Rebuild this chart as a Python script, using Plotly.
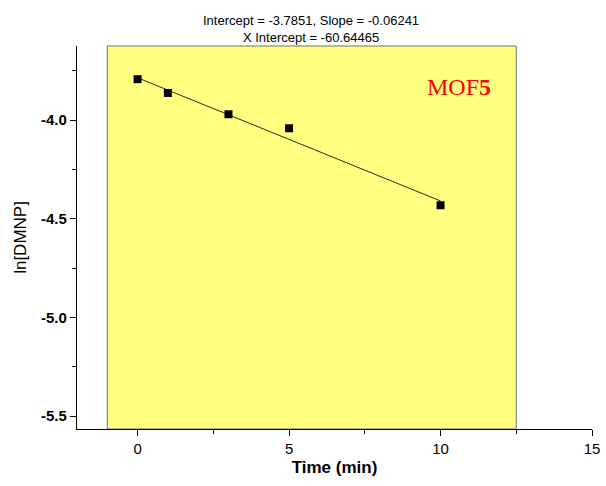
import plotly.graph_objects as go

# Data
time_min = [0, 1, 3, 5, 10]
ln_dmnp = [-3.792, -3.862, -3.970, -4.041, -4.431]

fit_intercept = -3.7851
fit_slope = -0.06241
x_intercept = -60.64465

x_tick_vals = [0, 5, 10, 15]
y_tick_vals = [-4.0, -4.5, -5.0, -5.5]
y_tick_text = ["-4.0", "-4.5", "-5.0", "-5.5"]

highlight_x = [-1, 12.5]

fit_x = [min(time_min), max(time_min)]
fit_y = [fit_intercept + fit_slope * v for v in fit_x]

fig = go.Figure()

fig.add_trace(go.Scatter(
    x=fit_x, y=fit_y, mode="lines",
    line=dict(color="#2b2b1a", width=1),
    showlegend=False, hoverinfo="skip"))

fig.add_trace(go.Scatter(
    x=time_min, y=ln_dmnp, mode="markers",
    marker=dict(symbol="square", size=8, color="black"),
    showlegend=False))

fig.add_shape(type="rect", xref="x", yref="paper",
              x0=highlight_x[0], x1=highlight_x[1], y0=0, y1=1,
              fillcolor="#ffff80", line=dict(color="#707070", width=1),
              layer="below")

fig.add_annotation(
    xref="paper", yref="paper", x=0.454, y=1.0, yshift=-1,
    xanchor="center", yanchor="bottom", showarrow=False,
    text=f"Intercept = {fit_intercept}, Slope = {fit_slope}<br>X Intercept = {x_intercept}",
    font=dict(family="Liberation Sans, Arial", size=13, color="black"))

fig.add_annotation(
    xref="x", yref="y", x=10.6, y=-3.833,
    xanchor="center", yanchor="middle", showarrow=False,
    text="MOF<b>5</b>",
    font=dict(family="Liberation Serif, Times New Roman", size=24, color="#ff0000"))

fig.update_layout(
    width=606, height=486,
    margin=dict(l=77, r=14, t=46, b=57),
    paper_bgcolor="white", plot_bgcolor="white",
    font=dict(family="Liberation Sans, Arial", color="black"),
    xaxis=dict(
        range=[-2, 15], tickvals=x_tick_vals, automargin=False,
        ticks="outside", ticklen=6, tickwidth=1.3, tickcolor="black",
        showline=True, linecolor="black", linewidth=1.3,
        showgrid=False, zeroline=False,
        tickfont=dict(size=15, family="Liberation Sans, Arial"),
        tickprefix="<b>", ticksuffix="</b>",
        title=dict(text="<b>Time (min)</b>", font=dict(size=17), standoff=4),
        minor=dict(dtick=2.5, tick0=0, ticks="outside", ticklen=4,
                   tickwidth=1.3, tickcolor="black", showgrid=False),
    ),
    yaxis=dict(
        range=[-5.565, -3.624], tickvals=y_tick_vals, automargin=False,
        ticktext=[f"<b>{t}</b>" for t in y_tick_text],
        ticks="outside", ticklen=6, tickwidth=1.3, tickcolor="black",
        showline=True, linecolor="black", linewidth=1.3,
        showgrid=False, zeroline=False,
        tickfont=dict(size=15, family="Liberation Sans, Arial"),
        title=dict(text="ln[DMNP]", font=dict(size=17), standoff=10),
        minor=dict(dtick=0.25, tick0=-4.0, ticks="outside", ticklen=4,
                   tickwidth=1.3, tickcolor="black", showgrid=False),
    ),
)

fig.write_html("out.html", config={"displayModeBar": False},
               post_script="document.body.style.margin='0';")
